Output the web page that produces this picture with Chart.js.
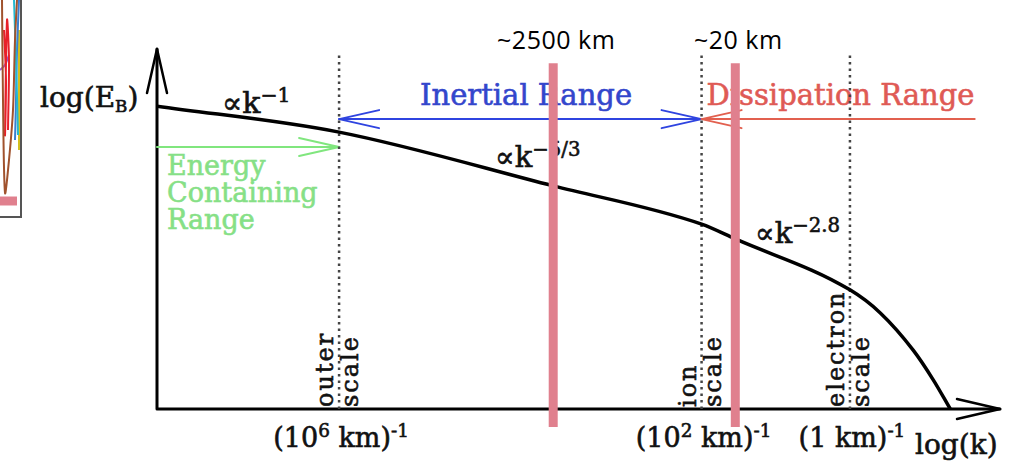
<!DOCTYPE html>
<html lang="en">
<head>
<meta charset="UTF-8">
<title>Magnetic energy spectrum</title>
<style>
    body { margin: 0; background: #fff; }
    #wrap { position: relative; width: 1018px; height: 467px; overflow: hidden; }
    #main { position: absolute; left: 0; top: 0; width: 1018px; height: 467px; z-index: 2; }
    #frag { position: absolute; left: 0; top: 0; width: 20px; height: 216px; z-index: 3; background: #fff;
            border-right: 2px solid #555; border-bottom: 2px solid #555; }
    .lbl { position: absolute; z-index: 1; white-space: nowrap; line-height: 1; font-family: 'DejaVu Serif', serif;
           -webkit-text-stroke: 0.6px currentColor; }
    .sup { position: relative; top: -0.55em; font-size: 0.68em; }
    .sub { position: relative; top: 0.3em; font-size: 0.6em; }
    .rot { transform-origin: 0 0; transform: rotate(-90deg); letter-spacing: 2px; font-size: 24px; color: #111; }
</style>
<script src="https://cdn.jsdelivr.net/npm/chart.js"></script>
</head>
<body>
<div id="wrap">
    <div id="frag"><canvas id="fragChart"></canvas></div>
    <div id="main"><canvas id="spectrum"></canvas></div>
</div>

<script>
    // spectrum, schematic units (log k across, log E_B up)
    const specK = [0, 21.6, 47.0, 64.6, 68.6, 82.2, 85.8, 89.7, 92.1, 94.1];
    const specE = [83.9, 76.7, 61.8, 51.2, 47.1, 33.0, 26.6, 16.3, 8.0, 0];

    // characteristic scales (dotted lines)
    const scaleFirst = ['outer', 'ion', 'electron'];
    const scaleK = [21.6, 64.6, 82.2];
    const scaleTicks = ['(10<span class="sup">6</span> km)<span class="sup">-1</span>',
                        '(10<span class="sup">2</span> km)<span class="sup">-1</span>',
                        '(1 km)<span class="sup">-1</span>'];

    // range arrows
    const rangeStart = [21.6, 97.0, 0];
    const rangeEnd = [64.6, 64.6, 21.6];
    const rangeLevel = [80.3, 80.3, 72.6];
    const rangeBoth = [true, false, false];
    const rangeColors = ['#2f44e0', '#e2604f', '#80e67e'];

    // marked wavelengths
    const markerLabels = ['~2500 km', '~20 km'];
    const markerK = [47.0, 68.6];

    // cropped neighbour plot at the left edge
    const fragSeries = [
        { color: '#a0522d', x: [2, 3, 5, 9, 13, 15, 17], y: [0, 100, 193, 160, 110, 40, 0] },
        { color: '#e8202a', x: [4, 6, 5, 7, 9, 8], y: [30, 80, 135, 20, 60, 130] },
        { color: '#22b8d0', x: [14, 16, 18], y: [0, 60, 135] },
        { color: '#3a7fd0', x: [19, 17, 16, 15], y: [0, 50, 100, 140] },
        { color: '#9b59d0', x: [0, 5, 9], y: [70, 65, 55] },
        { color: '#d4c020', x: [19, 19], y: [30, 150] }
    ];

    function pts(xs, ys) {
        return xs.map((v, i) => ({ x: v, y: ys[i] }));
    }

    function head(ctx, tx, ty, dx, dy, len, spread) {
        const px = -dy, py = dx;
        ctx.beginPath();
        ctx.moveTo(tx - dx * len + px * spread, ty - dy * len + py * spread);
        ctx.lineTo(tx, ty);
        ctx.lineTo(tx - dx * len - px * spread, ty - dy * len - py * spread);
        ctx.stroke();
    }

    const arrowPlugin = {
        id: 'arrows',
        beforeDatasetsDraw(chart) {
            const { ctx, chartArea: a, scales: { x, y } } = chart;
            ctx.save();
            ctx.lineCap = 'round';
            ctx.lineJoin = 'round';
            // axes
            ctx.strokeStyle = '#000';
            ctx.lineWidth = 3;
            ctx.beginPath();
            ctx.moveTo(a.left, a.top + 1);
            ctx.lineTo(a.left, a.bottom);
            ctx.lineTo(a.right, a.bottom);
            ctx.stroke();
            ctx.lineWidth = 2.5;
            head(ctx, a.left, a.top + 1, 0, -1, 44, 10);
            head(ctx, a.right, a.bottom, 1, 0, 43, 10);
            // ranges
            ctx.lineWidth = 2;
            for (let i = 0; i < rangeStart.length; i++) {
                const x0 = x.getPixelForValue(rangeStart[i]);
                const x1 = x.getPixelForValue(rangeEnd[i]);
                const yy = y.getPixelForValue(rangeLevel[i]);
                const d = x1 > x0 ? 1 : -1;
                ctx.strokeStyle = rangeColors[i];
                ctx.beginPath();
                ctx.moveTo(x0, yy);
                ctx.lineTo(x1, yy);
                ctx.stroke();
                head(ctx, x1, yy, d, 0, 40, 9);
                if (rangeBoth[i]) head(ctx, x0, yy, -d, 0, 40, 9);
            }
            ctx.restore();
        }
    };

    const datasets = [];
    markerK.forEach(k => datasets.push({
        data: pts([k, k], [-5, 95.8]),
        borderColor: '#e0808e', borderWidth: 9, borderCapStyle: 'butt',
        clip: false, order: 0
    }));
    datasets.push({
        data: pts(specK, specE),
        borderColor: '#000', borderWidth: 3.5, cubicInterpolationMode: 'monotone', order: 1
    });
    scaleK.forEach(k => datasets.push({
        data: pts([k, k], [0, 99]),
        borderColor: '#444', borderWidth: 2.5, borderDash: [2.5, 4], order: 2
    }));

    const chart = new Chart(document.getElementById('spectrum'), {
        type: 'scatter',
        data: { datasets: datasets.map(d => Object.assign({ showLine: true, pointRadius: 0 }, d)) },
        options: {
            responsive: true,
            maintainAspectRatio: false,
            animation: false,
            layout: { padding: { left: 157, right: 18, top: 48, bottom: 58 } },
            plugins: { legend: { display: false }, tooltip: { enabled: false } },
            scales: {
                x: { type: 'linear', min: 0, max: 100, display: false },
                y: { type: 'linear', min: 0, max: 100, display: false }
            }
        },
        plugins: [arrowPlugin]
    });

    new Chart(document.getElementById('fragChart'), {
        type: 'scatter',
        data: {
            datasets: fragSeries.map(s => ({
                data: pts(s.x, s.y), showLine: true, pointRadius: 0,
                borderColor: s.color, borderWidth: 2, tension: 0.3
            })).concat([{
                data: pts([0, 17], [201, 201]), showLine: true, pointRadius: 0,
                borderColor: '#e0808e', borderWidth: 9, borderCapStyle: 'butt'
            }])
        },
        options: {
            responsive: true, maintainAspectRatio: false, animation: false,
            plugins: { legend: { display: false }, tooltip: { enabled: false } },
            scales: {
                x: { min: 0, max: 20, display: false },
                y: { min: 0, max: 216, reverse: true, display: false }
            }
        }
    });

    // text, placed under the (transparent) canvas so the pink bars cover it
    const wrap = document.getElementById('wrap');
    const px = v => chart.scales.x.getPixelForValue(v);

    function addLabel(html, left, top, css) {
        const d = document.createElement('div');
        d.className = 'lbl';
        d.innerHTML = html;
        d.style.left = left + 'px';
        d.style.top = top + 'px';
        if (css) d.style.cssText += css;
        wrap.appendChild(d);
        return d;
    }

    addLabel('log(E<span class="sub">B</span>)', 40, 84, 'font-size:28px;color:#111;');
    addLabel('\u221Dk<span class="sup">\u22121</span>', 222, 88, 'font-size:30px;color:#111;');
    addLabel('\u221Dk<span class="sup">\u22125/3</span>', 495, 143, 'font-size:29px;color:#111;');
    addLabel('\u221Dk<span class="sup">\u22122.8</span>', 755, 219, 'font-size:29px;color:#111;');
    addLabel('Inertial Range', 420, 81, 'font-size:29px;color:#3346cc;');
    addLabel('Dissipation Range', px(scaleK[1]) + 5, 81, 'font-size:29px;color:#df5a55;');
    addLabel('Energy<br>Containing<br>Range', 167, 152, 'font-size:27px;line-height:27px;color:#86e086;');

    scaleK.forEach((k, i) => {
        addLabel(scaleFirst[i], px(k) - 26, 407).classList.add('rot');
        addLabel('scale', px(k) - 1, 407).classList.add('rot');
        addLabel(scaleTicks[i], px(k) + 2, 424, 'font-size:27px;color:#111;transform:translateX(-50%);');
    });
    addLabel('log(k)', 915, 431, 'font-size:28px;color:#111;');

    markerK.forEach((k, i) => {
        addLabel(markerLabels[i], px(k) + 3, 27,
            "font-family:'Open Sans',sans-serif;font-size:25px;letter-spacing:0.5px;color:#000;" +
            "-webkit-text-stroke:0;transform:translateX(-50%);");
    });
</script>
</body>
</html>
